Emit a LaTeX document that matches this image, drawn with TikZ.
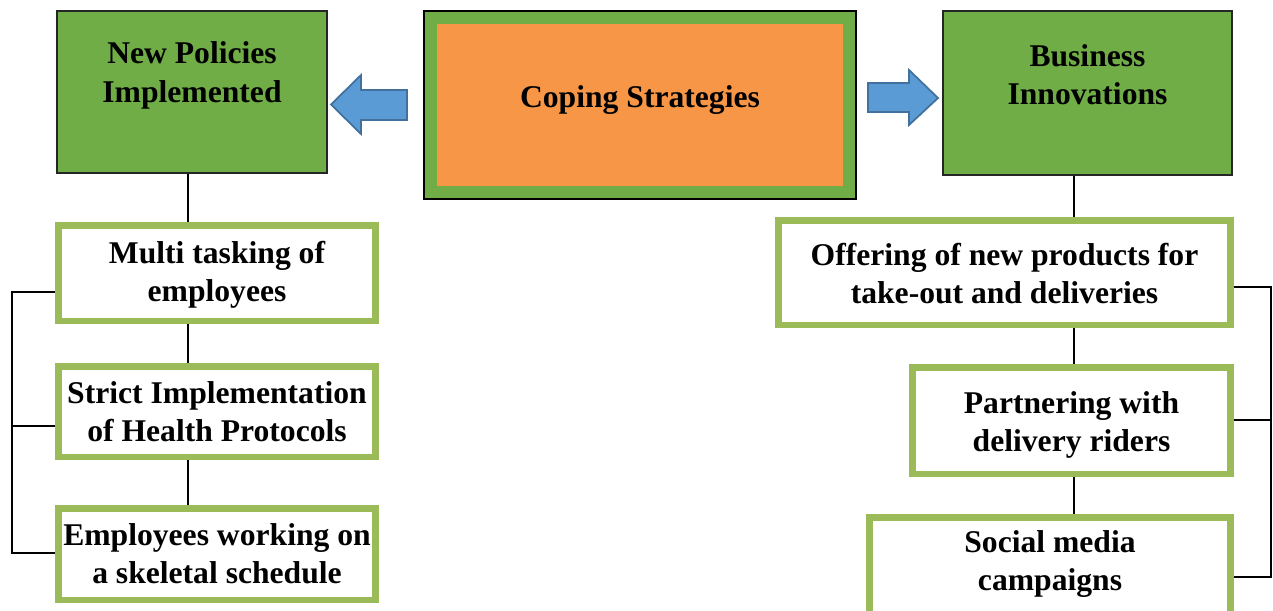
\documentclass[tikz,border=0pt]{standalone}
\usepackage{fontspec}
\setmainfont{Liberation Serif}
\definecolor{headgreen}{HTML}{70AD47}
\definecolor{itemgreen}{HTML}{9BBB59}
\definecolor{copeorange}{HTML}{F79646}
\definecolor{arrowblue}{HTML}{5B9BD5}
\definecolor{arrowedge}{HTML}{41719C}

\begin{document}
\begin{tikzpicture}[x=0.02cm,y=-0.02cm,
		every node/.style={font=\bfseries\fontsize{18pt}{21.7pt}\selectfont, align=center, inner xsep=0pt},
		headbox/.style={draw=black!85, line width=0.8pt, fill=headgreen, text height=34pt},
		itembox/.style={draw=itemgreen, line width=0.13cm, fill=white},
		blockarrow/.style={draw=arrowedge, line width=1pt, fill=arrowblue, line join=miter},
		link/.style={line width=1pt}]
		\useasboundingbox (0,0) rectangle (1273,610);
		% top row
		\node[headbox, minimum width=5.4cm, minimum height=3.24cm, text depth=22.6pt] (policies) at (192,92){New Policies\\Implemented};
		\node[draw=headgreen, line width=0.26cm, fill=copeorange, minimum width=8.38cm, minimum height=3.5cm, text height=12.3pt, text depth=9.5pt] (coping) at (640,105){Coping Strategies};
		\draw[line width=0.8pt] (coping.north west) rectangle (coping.south east);
		\node[headbox, minimum width=5.78cm, minimum height=3.28cm, text depth=20.4pt] (business) at (1087.5,93){Business\\Innovations};
		\draw[blockarrow] (407,90) -- (361,90) -- (361,75) -- (331,104.5) -- (361,134) -- (361,120) -- (407,120) -- cycle;
		\draw[blockarrow] (868,83) -- (909,83) -- (909,70) -- (938,98) -- (909,125) -- (909,112) -- (868,112) -- cycle;
		% left column
		\node[itembox, minimum width=6.35cm, minimum height=1.91cm, text height=36pt] (multi) at (217,273){Multi tasking of\\employees};
		\node[itembox, minimum width=6.35cm, minimum height=1.81cm] (strict) at (217,411.5){Strict Implementation\\of Health Protocols};
		\node[itembox, minimum width=6.35cm, minimum height=1.83cm] (skeletal) at (217,554){Employees working on\\a skeletal schedule};
		% right column
		\node[itembox, minimum width=9.05cm, minimum height=2.09cm, text height=39.6pt, text depth=3.9pt] (offer) at (1004.5,272.5){Offering of new products for\\take-out and deliveries};
		\node[itembox, minimum width=6.37cm, minimum height=2.13cm, text height=39.6pt, text depth=3.9pt] (riders) at (1071.5,420.5){Partnering with\\delivery riders};
		\node[itembox, minimum width=7.23cm, minimum height=2.07cm, text height=34pt, text depth=9.5pt] (social) at (1050,569){Social media\\campaigns};
		\coordinate (lspine) at (188,0);
		\coordinate (rspine) at (1074,0);
		\coordinate (lbrace) at (12,0);
		\coordinate (rbrace) at (1271,0);
		\draw[link] (policies.south -| lspine) -- (multi.north -| lspine);
		\draw[link] (multi.south -| lspine) -- (strict.north -| lspine);
		\draw[link] (strict.south -| lspine) -- (skeletal.north -| lspine);
		\draw[link] (business.south -| rspine) -- (offer.north -| rspine);
		\draw[link] (offer.south -| rspine) -- (riders.north -| rspine);
		\draw[link] (riders.south -| rspine) -- (social.north -| rspine);
		% brackets
		\draw[link] (multi.west |- 0,292) -| (lbrace |- 0,553) -- (skeletal.west |- 0,553);
		\draw[link] (strict.west |- 0,426) -- (lbrace |- 0,426);
		\draw[link] (offer.east |- 0,287) -| (rbrace |- 0,577) -- (social.east |- 0,577);
		\draw[link] (riders.east |- 0,420) -- (rbrace |- 0,420);
	\end{tikzpicture}
\end{document}
